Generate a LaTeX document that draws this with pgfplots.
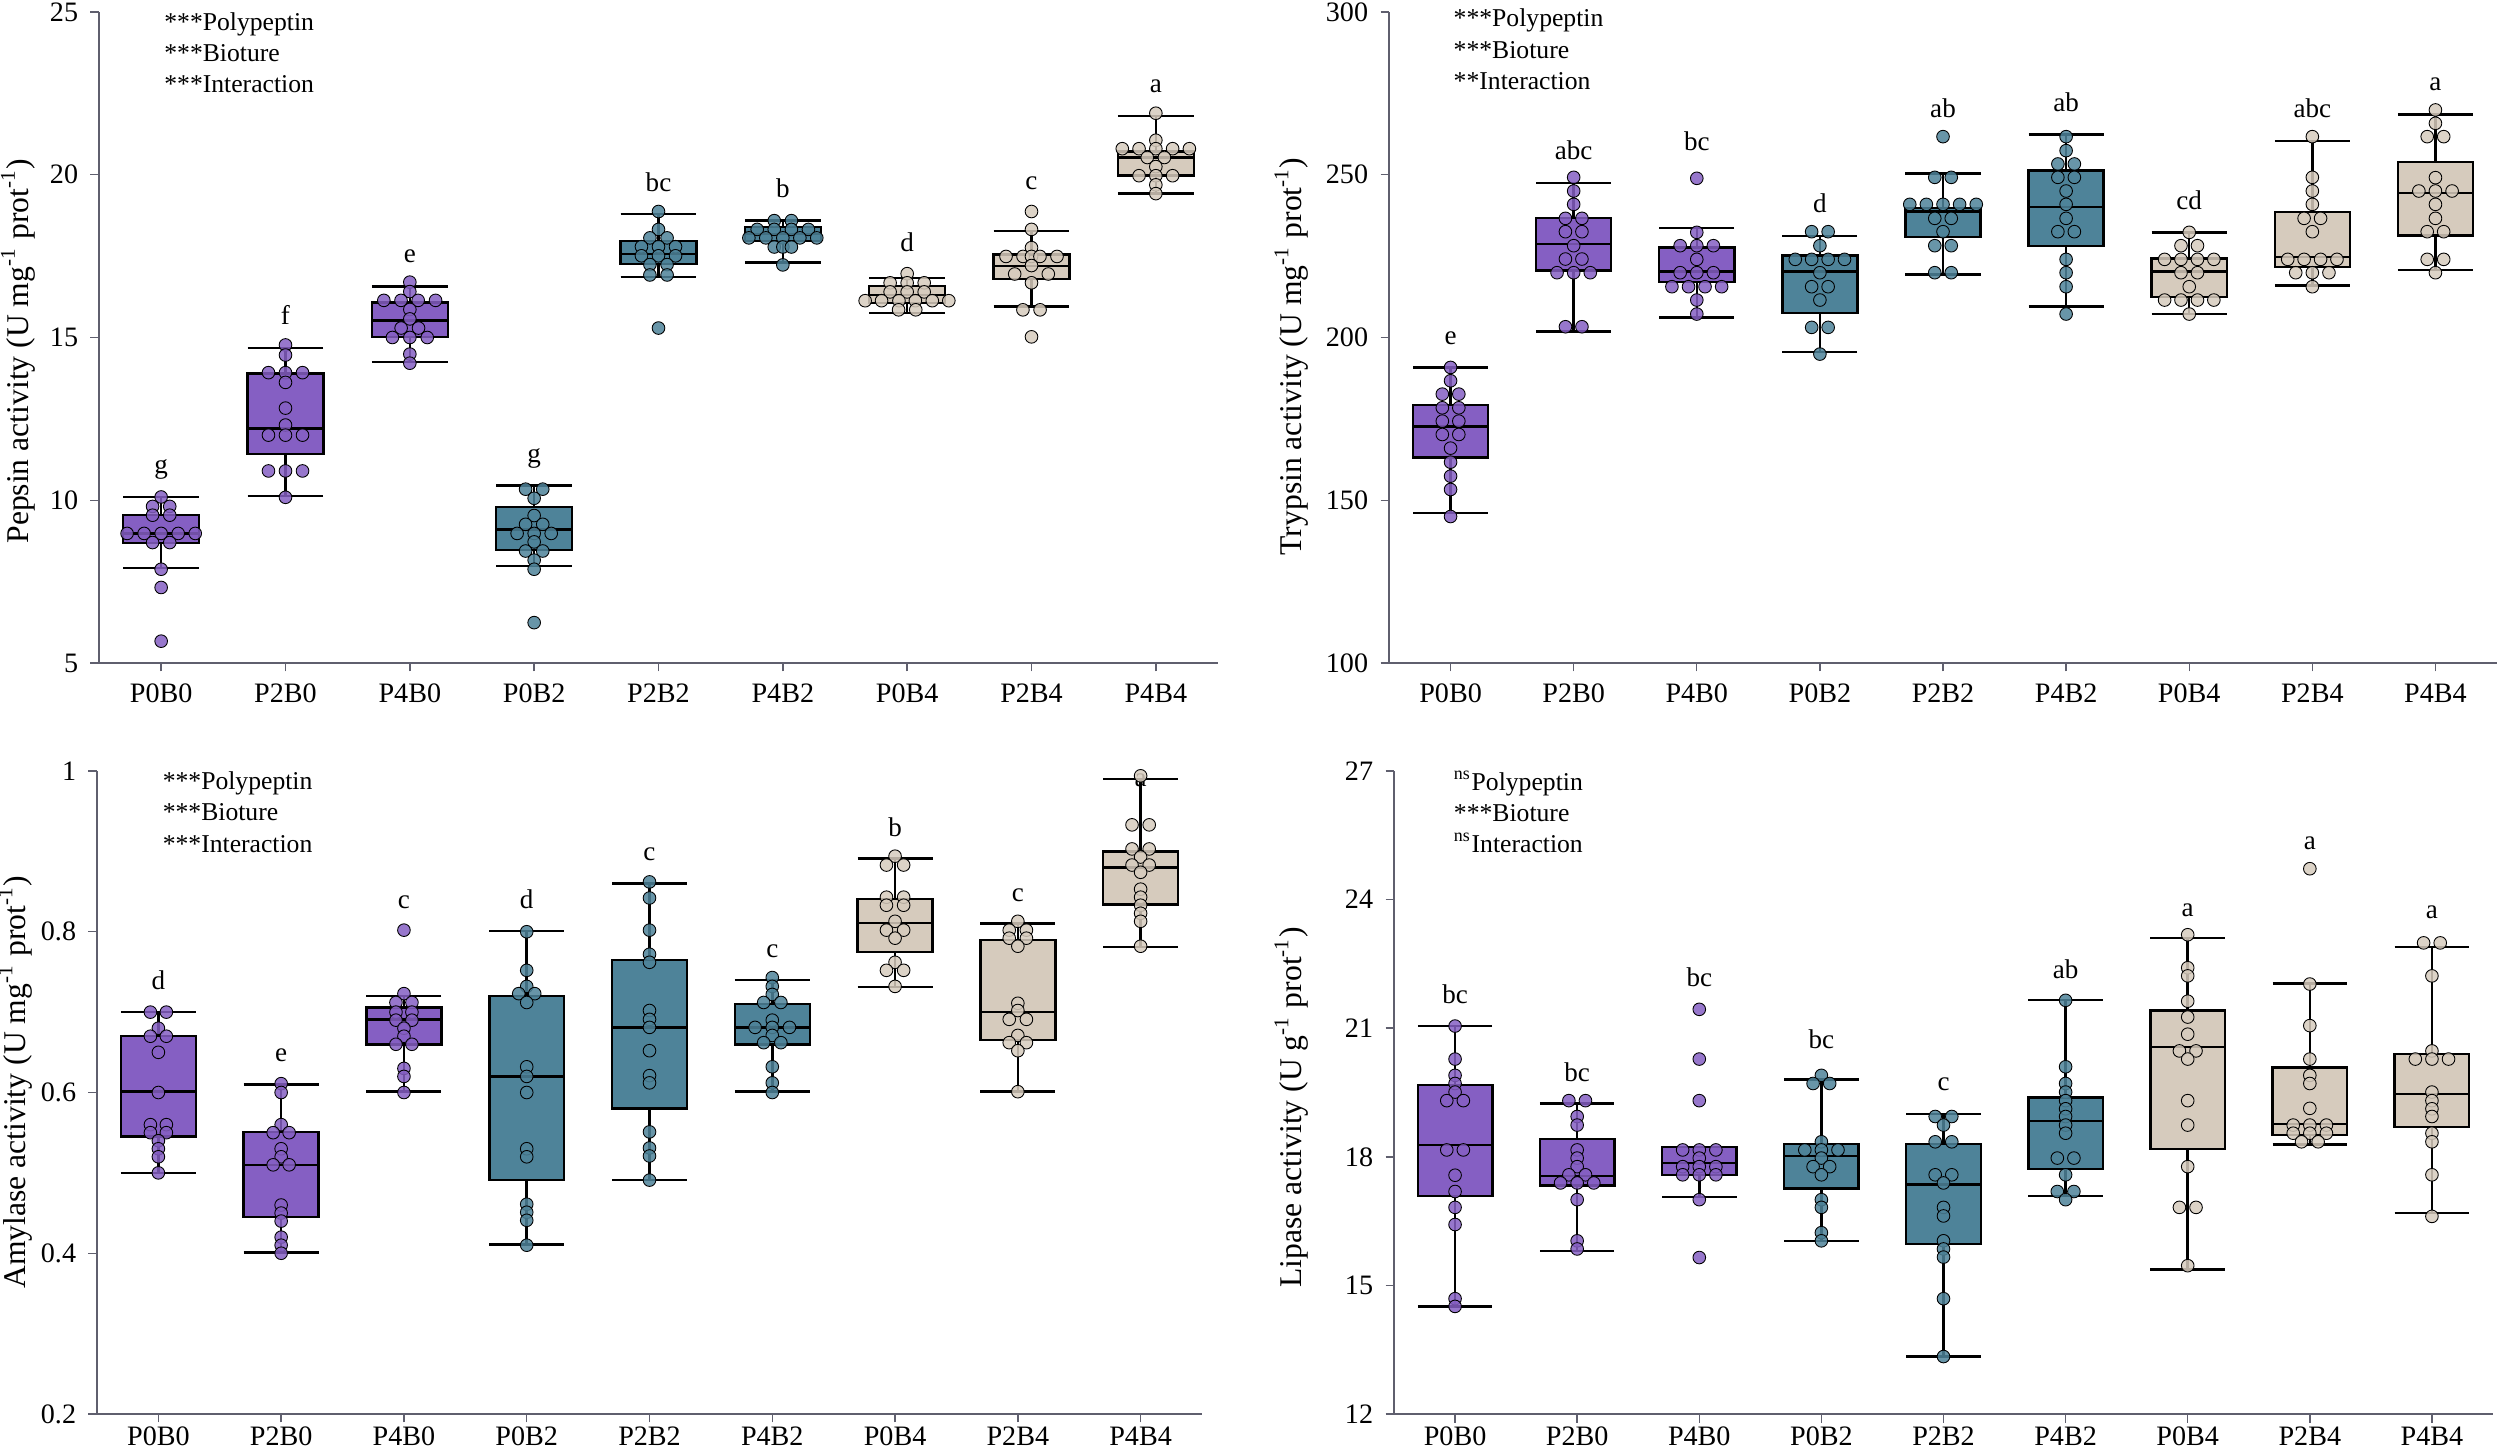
\documentclass[border=0pt]{standalone}
\usepackage{fontspec}
\setmainfont{Liberation Serif}
\usepackage{pgfplots}
\pgfplotsset{compat=1.18}
\usepgfplotslibrary{statistics}

\definecolor{pur}{RGB}{133,95,195}
\definecolor{tea}{RGB}{78,131,153}
\definecolor{bei}{RGB}{214,203,189}
\definecolor{axisgray}{RGB}{95,95,110}

\pgfplotsset{
  panel/.style={
    scale only axis, anchor=south west,
    xmin=-0.5, xmax=8.5,
    xtick={0,...,8},
    xticklabels={P0B0,P2B0,P4B0,P0B2,P2B2,P4B2,P0B4,P2B4,P4B4},
    axis x line*=bottom, axis y line*=left,
    axis line style={axisgray, line width=0.4pt},
    tick style={axisgray, line width=0.4pt},
    tick align=outside, major tick length=0.85mm,
    tick label style={font=\fontsize{8}{9}\selectfont},
    /pgf/number format/assume math mode=true,
    scaled y ticks=false,
    clip=false,
  },
  pts/.style={only marks, mark=*, mark size=1.8pt,
    mark options={draw=black, line width=0.25pt, fill=#1, fill opacity=0.85}},
}
\tikzset{
  lettr/.style={anchor=base, font=\fontsize{7.7}{9}\selectfont},
  annot/.style={anchor=base west, inner xsep=0pt, font=\fontsize{7.3}{9}\selectfont},
}

% box: colour, position, lower whisker, Q1, median, Q3, upper whisker
\newcommand{\bp}[7]{\addplot[draw=black, line width=0.7pt, fill=#1,
  boxplot prepared={draw direction=y, draw position=#2, lower whisker=#3, lower quartile=#4,
    median=#5, upper quartile=#6, upper whisker=#7,
    box extend=0.61, whisker extend=0.61}] coordinates {};}

\begin{document}
\begin{tikzpicture}
\useasboundingbox (0,0) rectangle (250mm,145.5mm);

% ---------------- Pepsin ----------------
\begin{axis}[panel, at={(9.9mm,79.2mm)}, width=111.9mm, height=65.1mm,
  ymin=5, ymax=25, ytick={5,10,15,20,25},
  ylabel={Pepsin activity (U mg\textsuperscript{-1} prot\textsuperscript{-1})},
  ylabel style={at={(axis description cs:-0.0724,0.479)}, anchor=center, font=\fontsize{9}{10}\selectfont}]
\bp{pur}{0}{7.92}{8.68}{8.98}{9.54}{10.10}
\bp{pur}{1}{10.13}{11.42}{12.20}{13.90}{14.67}
\bp{pur}{2}{14.25}{15.02}{15.52}{16.07}{16.57}
\bp{tea}{3}{7.98}{8.47}{9.10}{9.79}{10.45}
\bp{tea}{4}{16.86}{17.26}{17.56}{17.96}{18.80}
\bp{tea}{5}{17.31}{17.97}{18.18}{18.39}{18.59}
\bp{bei}{6}{15.75}{16.06}{16.30}{16.58}{16.82}
\bp{bei}{7}{15.95}{16.79}{17.20}{17.55}{18.27}
\bp{bei}{8}{19.43}{19.97}{20.53}{20.71}{21.81}
\addplot[pts=pur] coordinates {(0,10.10)(-0.069,9.81)(0.069,9.81)(-0.069,9.54)(0.069,9.54)
  (-0.274,8.98)(-0.137,8.98)(0,8.98)(0.137,8.98)(0.274,8.98)(-0.069,8.70)(0.069,8.70)
  (0,7.88)(0,7.32)(0,5.67)};
\addplot[pts=pur] coordinates {(1,14.77)(1,14.46)(0.863,13.92)(1,13.92)(1.137,13.92)(1,13.62)
  (1,12.83)(1,12.31)(0.863,12.0)(1,12.0)(1.137,12.0)(0.863,10.9)(1,10.9)(1.137,10.9)(1,10.09)};
\addplot[pts=pur] coordinates {(2,16.70)(2,16.41)(1.791,16.14)(1.929,16.14)(2.067,16.14)(2.207,16.14)
  (2,15.86)(2,15.57)(1.930,15.29)(2.070,15.29)(1.860,15.0)(2,15.0)(2.140,15.0)(2,14.49)(2,14.21)};
\addplot[pts=tea] coordinates {(2.931,10.34)(3.069,10.34)(3,10.06)(3,9.53)(2.931,9.26)(3.069,9.26)
  (2.863,8.98)(3,8.98)(3.137,8.98)(3,8.72)(2.931,8.44)(3.069,8.44)(3,8.16)(3,7.88)(3,6.24)};
\addplot[pts=tea] coordinates {(4,18.87)(4,18.32)(3.931,18.06)(4.069,18.06)(3.863,17.79)(4,17.79)
  (4.137,17.79)(3.863,17.51)(4,17.51)(4.137,17.51)(3.931,17.24)(4.069,17.24)(3.931,16.92)(4.069,16.92)(4,15.29)};
\addplot[pts=tea] coordinates {(4.931,18.59)(5.069,18.59)(4.794,18.32)(4.931,18.32)(5.069,18.32)
  (5.206,18.32)(4.727,18.06)(4.863,18.06)(5,18.06)(5.137,18.06)(5.273,18.06)(4.931,17.78)(5,17.78)
  (5.069,17.78)(5,17.23)};
\addplot[pts=bei] coordinates {(6,16.96)(5.863,16.68)(6,16.68)(6.137,16.68)(5.863,16.40)(6,16.40)
  (6.137,16.40)(5.662,16.13)(5.794,16.13)(5.934,16.13)(6.066,16.13)(6.202,16.13)(6.335,16.13)
  (5.931,15.85)(6.069,15.85)};
\addplot[pts=bei] coordinates {(7,18.87)(7,18.32)(7,17.76)(6.795,17.49)(6.932,17.49)(7,17.49)
  (7.068,17.49)(7.205,17.49)(7,17.21)(6.865,16.95)(7.135,16.95)(7,16.68)(6.931,15.85)(7.069,15.85)(7,15.02)};
\addplot[pts=bei] coordinates {(8,21.89)(8,21.06)(7.730,20.80)(7.865,20.80)(8,20.80)(8.135,20.80)
  (8.270,20.80)(7.931,20.53)(8.069,20.53)(8,20.25)(7.865,19.97)(8,19.97)(8.135,19.97)(8,19.69)(8,19.42)};
\node[lettr] at (axis cs:0,10.83) {g};
\node[lettr] at (axis cs:1,15.40) {f};
\node[lettr] at (axis cs:2,17.30) {e};
\node[lettr] at (axis cs:3,11.17) {g};
\node[lettr] at (axis cs:4,19.50) {bc};
\node[lettr] at (axis cs:5,19.29) {b};
\node[lettr] at (axis cs:6,17.65) {d};
\node[lettr] at (axis cs:7,19.55) {c};
\node[lettr] at (axis cs:8,22.53) {a};
\node[annot] at (axis cs:0.02,24.44) {***Polypeptin};
\node[annot] at (axis cs:0.02,23.48) {***Bioture};
\node[annot] at (axis cs:0.02,22.54) {***Interaction};
\end{axis}

% ---------------- Trypsin ----------------
\begin{axis}[panel, at={(138.9mm,79.2mm)}, width=110.8mm, height=65.1mm,
  ymin=100, ymax=300, ytick={100,150,200,250,300},
  ylabel={Trypsin activity (U mg\textsuperscript{-1} prot\textsuperscript{-1})},
  ylabel style={at={(axis description cs:-0.088,0.471)}, anchor=center, font=\fontsize{9}{10}\selectfont}]
\bp{pur}{0}{146.1}{163.1}{172.6}{179.3}{190.8}
\bp{pur}{1}{201.8}{220.6}{228.7}{236.7}{247.5}
\bp{pur}{2}{206.2}{217.0}{220.3}{227.7}{233.6}
\bp{tea}{3}{195.5}{207.5}{220.3}{225.2}{231.1}
\bp{tea}{4}{219.3}{230.8}{238.7}{239.7}{250.4}
\bp{tea}{5}{209.5}{228.1}{240.1}{251.3}{262.4}
\bp{bei}{6}{207.2}{212.5}{220.3}{224.3}{232.3}
\bp{bei}{7}{216.0}{221.7}{224.8}{238.6}{260.3}
\bp{bei}{8}{220.7}{231.3}{244.4}{253.9}{268.5}
\addplot[pts=pur] coordinates {(0,190.8)(0,186.7)(-0.067,182.6)(0.067,182.6)(-0.067,178.4)(0.067,178.4)
  (-0.067,174.3)(0.067,174.3)(-0.067,170.2)(0.067,170.2)(0,166.0)(0,161.7)(0,157.4)(0,153.3)(0,145.0)};
\addplot[pts=pur] coordinates {(1,249.2)(1,245.0)(1,240.9)(0.933,236.6)(1.067,236.6)(0.933,232.5)
  (1.067,232.5)(1,228.2)(0.933,224.1)(1.067,224.1)(0.865,219.9)(1,219.9)(1.135,219.9)(0.933,203.3)(1.067,203.3)};
\addplot[pts=pur] coordinates {(2,248.9)(2,232.3)(1.865,228.2)(2,228.2)(2.135,228.2)(2,224.0)
  (1.865,219.9)(2,219.9)(2.135,219.9)(1.798,215.6)(1.933,215.6)(2.067,215.6)(2.202,215.6)(2,211.5)(2,207.2)};
\addplot[pts=tea] coordinates {(2.933,232.5)(3.067,232.5)(3,228.2)(2.800,224.0)(2.933,224.0)(3.067,224.0)
  (3.200,224.0)(3,219.9)(2.933,215.6)(3.067,215.6)(3,211.5)(2.933,203.1)(3.067,203.1)(3,194.9)};
\addplot[pts=tea] coordinates {(4,261.7)(3.933,249.2)(4.067,249.2)(3.730,240.9)(3.865,240.9)(4,240.9)
  (4.135,240.9)(4.270,240.9)(3.933,236.6)(4.067,236.6)(4,232.5)(3.933,228.2)(4.067,228.2)(3.933,219.9)(4.067,219.9)};
\addplot[pts=tea] coordinates {(5,261.7)(5,257.4)(4.933,253.3)(5.067,253.3)(4.933,249.2)(5.067,249.2)
  (5,245.0)(5,240.9)(5,236.6)(4.933,232.5)(5.067,232.5)(5,224.0)(5,219.9)(5,215.6)(5,207.2)};
\addplot[pts=bei] coordinates {(6,232.3)(5.933,228.2)(6.067,228.2)(5.800,224.0)(5.933,224.0)(6.067,224.0)
  (6.200,224.0)(5.933,219.9)(6.067,219.9)(6,215.6)(5.800,211.5)(5.933,211.5)(6.067,211.5)(6.200,211.5)(6,207.2)};
\addplot[pts=bei] coordinates {(7,261.7)(7,249.2)(7,245.0)(7,240.9)(6.933,236.6)(7.067,236.6)(7,232.5)
  (6.800,224.0)(6.933,224.0)(7.067,224.0)(7.200,224.0)(6.865,219.9)(7,219.9)(7.135,219.9)(7,215.6)};
\addplot[pts=bei] coordinates {(8,269.9)(8,265.8)(7.933,261.7)(8.067,261.7)(8,249.1)(7.865,245.0)(8,245.0)
  (8.135,245.0)(8,240.9)(8,236.6)(7.933,232.5)(8.067,232.5)(7.933,224.0)(8.067,224.0)(8,219.9)};
\node[lettr] at (axis cs:0,197.9) {e};
\node[lettr] at (axis cs:1,254.6) {abc};
\node[lettr] at (axis cs:2,257.4) {bc};
\node[lettr] at (axis cs:3,238.3) {d};
\node[lettr] at (axis cs:4,267.7) {ab};
\node[lettr] at (axis cs:5,269.5) {ab};
\node[lettr] at (axis cs:6,239.3) {cd};
\node[lettr] at (axis cs:7,267.7) {abc};
\node[lettr] at (axis cs:8,275.9) {a};
\node[annot] at (axis cs:0.02,295.5) {***Polypeptin};
\node[annot] at (axis cs:0.02,285.8) {***Bioture};
\node[annot] at (axis cs:0.02,276.3) {**Interaction};
\end{axis}

% ---------------- Amylase ----------------
\begin{axis}[panel, at={(9.7mm,4.1mm)}, width=110.5mm, height=64.3mm,
  x tick label style={inner ysep=1pt},
  ymin=0.2, ymax=1, ytick={0.2,0.4,0.6,0.8,1},
  ylabel={Amylase activity (U mg\textsuperscript{-1} prot\textsuperscript{-1})},
  ylabel style={at={(axis description cs:-0.0737,0.516)}, anchor=center, font=\fontsize{9}{10}\selectfont}]
\bp{pur}{0}{0.500}{0.545}{0.601}{0.670}{0.700}
\bp{pur}{1}{0.401}{0.445}{0.510}{0.551}{0.610}
\bp{pur}{2}{0.601}{0.660}{0.691}{0.706}{0.720}
\bp{tea}{3}{0.411}{0.491}{0.620}{0.720}{0.801}
\bp{tea}{4}{0.491}{0.580}{0.681}{0.765}{0.860}
\bp{tea}{5}{0.601}{0.660}{0.681}{0.710}{0.740}
\bp{bei}{6}{0.731}{0.775}{0.811}{0.841}{0.891}
\bp{bei}{7}{0.601}{0.665}{0.700}{0.790}{0.810}
\bp{bei}{8}{0.781}{0.834}{0.880}{0.900}{0.990}
\addplot[pts=pur] coordinates {(-0.065,0.70)(0.065,0.70)(0,0.68)(-0.065,0.67)(0.065,0.67)(0,0.65)
  (0,0.60)(-0.065,0.56)(0.065,0.56)(-0.065,0.55)(0.065,0.55)(0,0.54)(0,0.53)(0,0.52)(0,0.50)};
\addplot[pts=pur] coordinates {(1,0.611)(1,0.60)(1,0.56)(0.935,0.55)(1.065,0.55)(1,0.53)(1,0.52)
  (0.935,0.51)(1.065,0.51)(1,0.46)(1,0.45)(1,0.44)(1,0.42)(1,0.41)(1,0.40)};
\addplot[pts=pur] coordinates {(2,0.802)(2,0.723)(1.935,0.712)(2.065,0.712)(1.935,0.70)(2.065,0.70)
  (1.935,0.69)(2.065,0.69)(2,0.68)(2,0.67)(1.935,0.66)(2.065,0.66)(2,0.63)(2,0.62)(2,0.60)};
\addplot[pts=tea] coordinates {(3,0.80)(3,0.752)(3,0.732)(2.935,0.723)(3.065,0.723)(3,0.712)(3,0.632)
  (3,0.62)(3,0.60)(3,0.53)(3,0.52)(3,0.461)(3,0.451)(3,0.441)(3,0.41)};
\addplot[pts=tea] coordinates {(4,0.862)(4,0.842)(4,0.802)(4,0.772)(4,0.762)(4,0.702)(4,0.691)(4,0.681)
  (4,0.652)(4,0.621)(4,0.612)(4,0.551)(4,0.531)(4,0.521)(4,0.491)};
\addplot[pts=tea] coordinates {(5,0.743)(5,0.732)(5,0.722)(4.93,0.712)(5.07,0.712)(5,0.69)(4.86,0.681)
  (5,0.681)(5.14,0.681)(5,0.671)(4.93,0.662)(5.07,0.662)(5,0.632)(5,0.612)(5,0.60)};
\addplot[pts=bei] coordinates {(6,0.894)(5.93,0.883)(6.07,0.883)(5.93,0.843)(6.07,0.843)(5.93,0.833)
  (6.07,0.833)(6,0.813)(5.93,0.802)(6.07,0.802)(6,0.792)(6,0.762)(5.93,0.752)(6.07,0.752)(6,0.732)};
\addplot[pts=bei] coordinates {(7,0.813)(6.93,0.802)(7.07,0.802)(6.93,0.792)(7.07,0.792)(7,0.782)(7,0.711)
  (7,0.702)(6.93,0.691)(7.07,0.691)(7,0.671)(6.93,0.662)(7.07,0.662)(7,0.652)(7,0.601)};
\addplot[pts=bei] coordinates {(8,0.994)(7.93,0.933)(8.07,0.933)(7.93,0.903)(8.07,0.903)(8,0.893)
  (7.93,0.883)(8.07,0.883)(8,0.874)(8,0.853)(8,0.843)(8,0.833)(8,0.823)(8,0.813)(8,0.782)};
\node[lettr] at (axis cs:0,0.728) {d};
\node[lettr] at (axis cs:1,0.639) {e};
\node[lettr] at (axis cs:2,0.829) {c};
\node[lettr] at (axis cs:3,0.829) {d};
\node[lettr] at (axis cs:4,0.889) {c};
\node[lettr] at (axis cs:5,0.768) {c};
\node[lettr] at (axis cs:6,0.918) {b};
\node[lettr] at (axis cs:7,0.838) {c};
\node[lettr] at (axis cs:8,0.981) {a};
\node[annot] at (axis cs:0.03,0.977) {***Polypeptin};
\node[annot] at (axis cs:0.03,0.938) {***Bioture};
\node[annot] at (axis cs:0.03,0.899) {***Interaction};
\end{axis}

% ---------------- Lipase ----------------
\begin{axis}[panel, at={(139.4mm,4.1mm)}, width=109.9mm, height=64.3mm,
  x tick label style={inner ysep=1pt},
  ymin=12, ymax=27, ytick={12,15,18,21,24,27},
  ylabel={Lipase activity (U g\textsuperscript{-1} prot\textsuperscript{-1})},
  ylabel style={at={(axis description cs:-0.0933,0.477)}, anchor=center, font=\fontsize{9}{10}\selectfont}]
\bp{pur}{0}{14.51}{17.09}{18.27}{19.67}{21.05}
\bp{pur}{1}{15.80}{17.33}{17.55}{18.41}{19.24}
\bp{pur}{2}{17.06}{17.58}{17.86}{18.23}{18.23}
\bp{tea}{3}{16.04}{17.26}{18.02}{18.30}{19.80}
\bp{tea}{4}{13.34}{15.96}{17.35}{18.30}{19.00}
\bp{tea}{5}{17.09}{17.71}{18.84}{19.38}{21.66}
\bp{bei}{6}{15.37}{18.18}{20.56}{21.41}{23.10}
\bp{bei}{7}{18.29}{18.51}{18.77}{20.08}{22.04}
\bp{bei}{8}{16.69}{18.69}{19.47}{20.40}{22.90}
\addplot[pts=pur] coordinates {(0,21.05)(0,20.28)(0,19.90)(0,19.71)(0,19.51)(-0.068,19.31)(0.068,19.31)
  (-0.068,18.16)(0.068,18.16)(0,17.57)(0,17.19)(0,16.82)(0,16.42)(0,14.69)(0,14.51)};
\addplot[pts=pur] coordinates {(0.932,19.31)(1.068,19.31)(1,18.94)(1,18.74)(1,18.16)(1,17.97)(1,17.77)
  (0.932,17.58)(1.068,17.58)(0.864,17.39)(1,17.39)(1.136,17.39)(1,17.0)(1,16.04)(1,15.85)};
\addplot[pts=pur] coordinates {(2,21.44)(2,20.28)(2,19.31)(1.864,18.16)(2,18.16)(2.136,18.16)(2,17.97)
  (1.864,17.77)(2,17.77)(2.136,17.77)(1.864,17.58)(2,17.58)(2.136,17.58)(2,17.0)(2,15.65)};
\addplot[pts=tea] coordinates {(3,19.90)(2.932,19.71)(3.068,19.71)(3,18.35)(2.864,18.16)(3,18.16)
  (3.136,18.16)(3,17.97)(2.932,17.77)(3.068,17.77)(3,17.58)(3,17.0)(3,16.82)(3,16.23)(3,16.04)};
\addplot[pts=tea] coordinates {(3.932,18.94)(4.068,18.94)(4,18.74)(3.932,18.35)(4.068,18.35)(3.932,17.58)
  (4.068,17.58)(4,17.39)(4,16.82)(4,16.62)(4,16.04)(4,15.85)(4,15.66)(4,14.69)(4,13.34)};
\addplot[pts=tea] coordinates {(5,21.65)(5,20.10)(5,19.71)(5,19.51)(5,19.31)(5,19.12)(5,18.94)(5,18.74)
  (5,18.55)(4.932,17.97)(5.068,17.97)(5,17.58)(4.932,17.19)(5.068,17.19)(5,17.0)};
\addplot[pts=bei] coordinates {(6,23.18)(6,22.41)(6,22.22)(6,21.63)(6,21.26)(6,20.86)(5.932,20.47)
  (6.068,20.47)(6,20.28)(6,19.31)(6,18.74)(6,17.77)(5.932,16.82)(6.068,16.82)(6,15.46)};
\addplot[pts=bei] coordinates {(7,24.72)(7,22.03)(7,21.06)(7,20.28)(7,19.90)(7,19.71)(7,19.13)
  (6.864,18.74)(7,18.74)(7.136,18.74)(6.864,18.55)(7,18.55)(7.136,18.55)(6.932,18.35)(7.068,18.35)};
\addplot[pts=bei] coordinates {(7.932,22.99)(8.068,22.99)(8,22.22)(8,20.47)(7.864,20.28)(8,20.28)
  (8.136,20.28)(8,19.51)(8,19.31)(8,19.12)(8,18.94)(8,18.55)(8,18.35)(8,17.58)(8,16.61)};
\node[lettr] at (axis cs:0,21.58) {bc};
\node[lettr] at (axis cs:1,19.75) {bc};
\node[lettr] at (axis cs:2,21.98) {bc};
\node[lettr] at (axis cs:3,20.53) {bc};
\node[lettr] at (axis cs:4,19.54) {c};
\node[lettr] at (axis cs:5,22.17) {ab};
\node[lettr] at (axis cs:6,23.61) {a};
\node[lettr] at (axis cs:7,25.18) {a};
\node[lettr] at (axis cs:8,23.56) {a};
\node[annot] at (axis cs:-0.015,26.55) {\textsuperscript{ns}Polypeptin};
\node[annot] at (axis cs:-0.015,25.83) {***Bioture};
\node[annot] at (axis cs:-0.015,25.10) {\textsuperscript{ns}Interaction};
\end{axis}
\end{tikzpicture}
\end{document}
